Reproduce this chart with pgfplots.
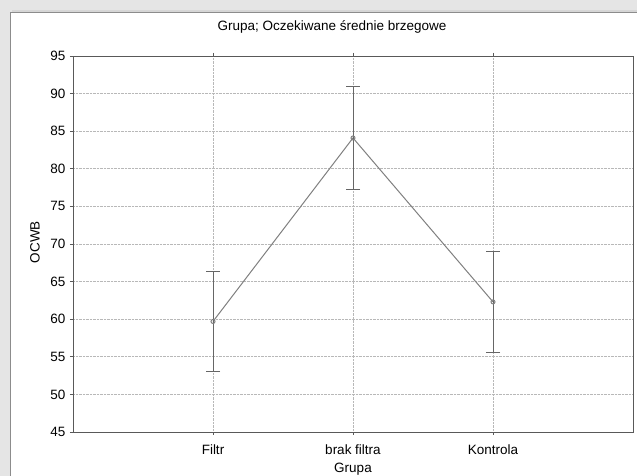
\documentclass[border=0pt]{standalone}
\usepackage{pgfplots}
\pgfplotsset{compat=1.18}
\usepackage{fontspec}
\setmainfont{Liberation Sans}
\begin{document}
\begin{tikzpicture}[x=1pt,y=1pt]
\useasboundingbox (0,0) rectangle (637,476);
\fill[black!10] (0,0) rectangle (637,476);
\fill[black!16] (12,0) rectangle (637,466);
\fill[white] (10,0) rectangle (637,464);
\draw[black!45, line width=0.8pt] (10,-2) -- (10,464) -- (639,464);
\begin{axis}[
  at={(73pt,44pt)}, anchor=south west,
  scale only axis, width=560pt, height=376pt,
  xmin=0, xmax=4, ymin=45, ymax=95,
  ytick={45,50,...,95},
  xtick={1,2,3}, xticklabels={Filtr,brak filtra,Kontrola},
  grid=major,
  grid style={densely dotted, black!28, line width=0.6pt},
  axis line style={black!65, line width=0.9pt},
  tick style={black!65, line width=0.6pt},
  major tick length=3pt,
  tick align=outside,
  xtick pos=both, ytick pos=left,
  /pgf/number format/assume math mode=true,
  tick label style={font=\fontsize{13.5}{15}\selectfont},
  yticklabel style={xshift=-1pt},
  xticklabel style={anchor=base, yshift=-20pt},
  title={Grupa; Oczekiwane średnie brzegowe},
  title style={font=\fontsize{13.5}{15}\selectfont, at={(axis description cs:0.4625,1)}, anchor=base, yshift=19pt},
  xlabel={Grupa},
  xlabel style={font=\fontsize{13.5}{15}\selectfont, at={(axis description cs:0.5,0)}, anchor=base, yshift=-40.5pt},
  ylabel={OCWB},
  ylabel style={font=\fontsize{13.5}{15}\selectfont, at={(axis description cs:-0.0679,0.505)}, anchor=center},
]
\addplot[black!50, line width=1pt, mark=o, mark size=2pt, mark options={solid, fill=white},
  error bars/.cd, y dir=both, y explicit,
  error bar style={black!60, line width=1pt},
  error mark options={rotate=90, mark size=7pt, black!60, line width=1pt}]
coordinates {
  (1,59.7) +- (0,6.7)
  (2,84.1) +- (0,6.85)
  (3,62.3) +- (0,6.75)
};
\end{axis}
\end{tikzpicture}
\end{document}
